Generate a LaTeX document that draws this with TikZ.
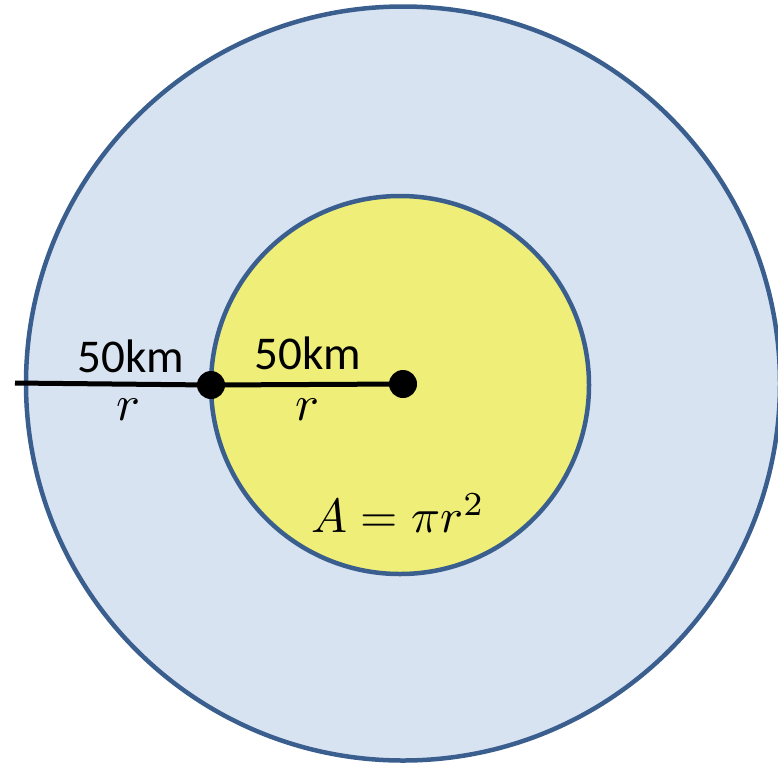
\documentclass[tikz,border=0pt]{standalone}
\usepackage{fontspec}
\setmainfont{Carlito}
\newcommand{\bigmath}[2]{\scalebox{#1}{$#2$}}
\begin{document}
\begin{tikzpicture}[x=1pt,y=-1pt,
  ring/.style={draw=ringblue,line width=4.5pt},
  seg/.style={line width=5pt,black},
  dot/.style={circle,fill=black,inner sep=0pt,minimum size=28pt},
  dist/.style={font=\fontsize{47}{50}\selectfont},
  sym/.style={inner sep=0pt}]
\definecolor{ringblue}{HTML}{3A5F8E}
\definecolor{outerfill}{HTML}{D8E3F2}
\definecolor{innerfill}{HTML}{EEEE78}
\useasboundingbox (0,0) rectangle (778,764);
\begin{scope}
\clip (0,0) rectangle (778,764);
\path[ring,fill=outerfill] (403,383.5) circle[radius=377];
\end{scope}
\path[ring,fill=innerfill] (400,385) circle[radius=189];
\coordinate (start) at (15,383);
\node[dot] (d1) at (211,385) {};
\node[dot] (d2) at (403,384) {};
\draw[seg] (start) -- (d1.center);
\draw[seg] (d1.center) -- (d2.center);
\node[dist] (t1) at (131,356) {50km};
\node[dist] (t2) at (308,353) {50km};
\node[sym] (r1) at (128,410) {\bigmath{5}{r}};
\node[sym] (r2) at (307,410) {\bigmath{5}{r}};
\node[sym] (area) at (398,513) {\bigmath{4.8}{A=\pi r^2}};
\end{tikzpicture}
\end{document}
